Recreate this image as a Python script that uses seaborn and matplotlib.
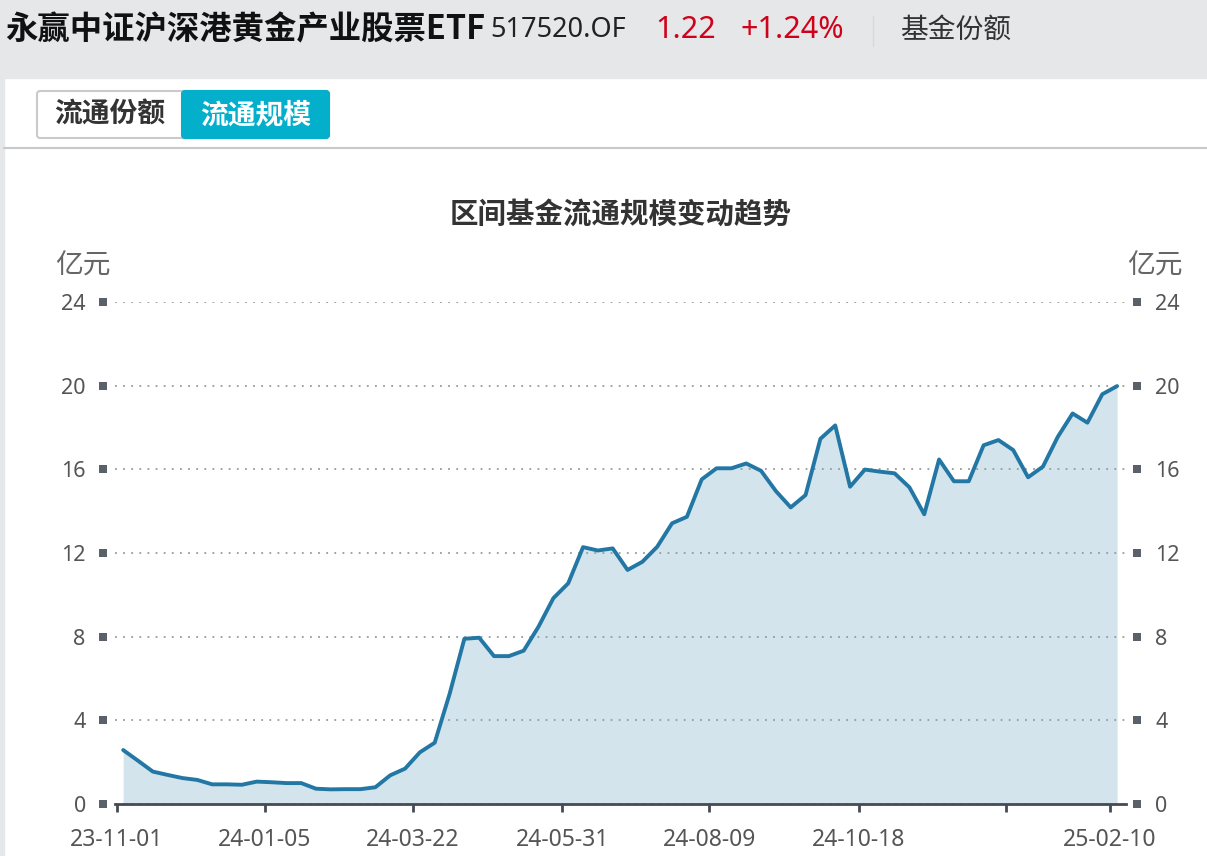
import numpy as np
import pandas as pd
import seaborn as sns
import matplotlib.pyplot as plt
from matplotlib.patches import Rectangle, FancyBboxPatch
from matplotlib.lines import Line2D

# 区间基金流通规模（亿元），每周一个点
scale = [2.58, 2.07, 1.55, 1.39, 1.24, 1.15, 0.94, 0.94, 0.92, 1.07,
         1.04, 1.00, 1.00, 0.73, 0.70, 0.71, 0.71, 0.80, 1.37, 1.69,
         2.47, 2.93, 5.25, 7.90, 7.95, 7.07, 7.07, 7.33, 8.48, 9.84,
         10.55, 12.28, 12.12, 12.22, 11.19, 11.58, 12.30, 13.42, 13.73, 15.52,
         16.05, 16.05, 16.28, 15.93, 14.96, 14.18, 14.77, 17.46, 18.10, 15.17,
         15.99, 15.89, 15.81, 15.14, 13.85, 16.47, 15.43, 15.43, 17.15, 17.40,
         16.92, 15.62, 16.13, 17.55, 18.67, 18.23, 19.59, 19.98]
date_labels = ["23-11-01", "24-01-05", "24-03-22", "24-05-31",
               "24-08-09", "24-10-18", "", "25-02-10"]
y_ticks = [0, 4, 8, 12, 16, 20, 24]

# tick positions in week units (category axis is trading days, data weekly)
tick_pos = [-0.42, 9.55, 19.52, 29.6, 39.5, 49.6, 59.5, 66.5]

df = pd.DataFrame({"week": np.arange(len(scale)), "scale": scale})

W, H = 1207, 856
CJK = ["Noto Sans CJK SC", "DejaVu Sans"]
LINE_C = "#2377a4"
FILL_C = "#d3e4ec"
AXIS_C = "#454b54"

sns.set_theme(style="white")
plt.rcParams["font.family"] = ["Noto Sans", "Noto Sans CJK SC", "DejaVu Sans"]

fig = plt.figure(figsize=(W / 100, H / 100), dpi=100)
fig.patch.set_facecolor("white")


def fx(x):
    return x / W


def fy(y):
    return 1 - y / H


# page background: grey header and left strip
fig.patches.append(Rectangle((0, fy(78)), 1, 78 / H, transform=fig.transFigure,
                             color="#e6e7e9", zorder=0))
fig.patches.append(Rectangle((0, 0), 4 / W, fy(78), transform=fig.transFigure,
                             color="#e6e7e9", zorder=0))

# header line
fig.text(fx(5), fy(30), "永赢中证沪深港黄金产业股票ETF", family=CJK, fontsize=23.3,
         fontweight="bold", color="#111111", va="center", ha="left")
fig.text(fx(490), fy(30), "517520.OF", fontsize=19.5, color="#222222",
         va="center", ha="left")
fig.text(fx(655), fy(30), "1.22", fontsize=22, color="#d0021b", va="center", ha="left")
fig.text(fx(740), fy(30), "+1.24%", fontsize=22, color="#d0021b", va="center", ha="left")
fig.lines.append(Line2D([fx(873), fx(873)], [fy(16), fy(46)], transform=fig.transFigure,
                        color="#d8d9dc", lw=1))
fig.text(fx(900), fy(30), "基金份额", family=CJK, fontsize=20, color="#333333",
         va="center", ha="left")

# tabs
tr = fig.dpi_scale_trans
fig.patches.append(FancyBboxPatch((37 / 100, (H - 138) / 100), 292 / 100, 47 / 100,
                                  boxstyle="round,pad=0,rounding_size=0.03",
                                  transform=tr, facecolor="white", edgecolor="#c9cacd",
                                  lw=1.5, zorder=1))
fig.patches.append(FancyBboxPatch((182 / 100, (H - 138) / 100), 147 / 100, 47 / 100,
                                  boxstyle="round,pad=0,rounding_size=0.03",
                                  transform=tr, facecolor="#03afcb", edgecolor="#03afcb",
                                  lw=1.5, zorder=2))
fig.patches.append(Rectangle((182 / 100, (H - 138) / 100), 10 / 100, 47 / 100,
                             transform=tr, facecolor="#03afcb", edgecolor="none", zorder=3))
fig.text(fx(110), fy(115), "流通份额", family=CJK, fontsize=20, fontweight="bold",
         color="#333333", va="center", ha="center", zorder=4)
fig.text(fx(256), fy(115), "流通规模", family=CJK, fontsize=20, fontweight="bold",
         color="white", va="center", ha="center", zorder=4)
fig.lines.append(Line2D([fx(4), 1], [fy(148), fy(148)], transform=fig.transFigure,
                        color="#c8c9cc", lw=1.5))

# chart title and units
fig.text(fx(621), fy(215), "区间基金流通规模变动趋势", family=CJK, fontsize=20.5,
         fontweight="bold", color="#333333", va="center", ha="center")
fig.text(fx(55), fy(266), "亿元", family=CJK, fontsize=20, color="#666666",
         va="center", ha="left")
fig.text(fx(1183), fy(266), "亿元", family=CJK, fontsize=20, color="#666666",
         va="center", ha="right")

ax = fig.add_axes([fx(115), fy(804), (1126 - 115) / W, (804 - 302) / H])
ax.set_facecolor("none")

ax.fill_between(df["week"], df["scale"], 0, color=FILL_C, lw=0, zorder=1)
sns.lineplot(data=df, x="week", y="scale", ax=ax, color=LINE_C, linewidth=2.8,
             zorder=3)

ax.set_xlim(-0.55, 67.6)
ax.set_ylim(0, 24)
ax.set_xlabel("")
ax.set_ylabel("")

for s in ["top", "left", "right"]:
    ax.spines[s].set_visible(False)
ax.spines["bottom"].set_color(AXIS_C)
ax.spines["bottom"].set_linewidth(2)
ax.spines["bottom"].set_zorder(4)

ax.set_yticks(y_ticks)
ax.yaxis.grid(True, linestyle=(0, (1, 3.5)), color="#9a9a9a", lw=1.3)
ax.set_axisbelow(False)
for gl in ax.get_ygridlines():
    gl.set_zorder(2)
ax.tick_params(axis="y", length=0, pad=21, labelsize=15.5, labelcolor="#555555",
               labelleft=True, labelright=True)

ax.set_xticks(tick_pos, date_labels)
ax.tick_params(axis="x", length=6, width=2, color=AXIS_C, direction="out",
               pad=11, labelsize=16.5, labelcolor="#555555", bottom=True)

# small square markers next to the value labels
ax.scatter([-0.012] * len(y_ticks), y_ticks, transform=ax.get_yaxis_transform(),
           marker="s", s=26, color="#5b616b", clip_on=False, zorder=5, lw=0)
ax.scatter([1.011] * len(y_ticks), y_ticks, transform=ax.get_yaxis_transform(),
           marker="s", s=26, color="#5b616b", clip_on=False, zorder=5, lw=0)

fig.savefig("out.png", dpi=100)
